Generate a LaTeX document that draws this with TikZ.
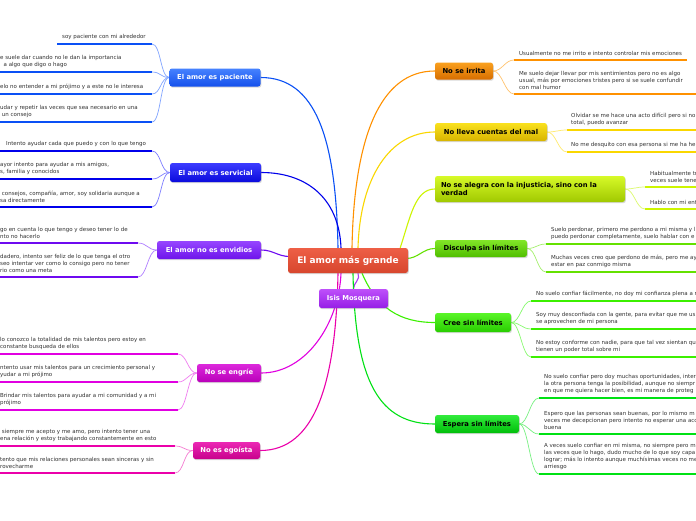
\documentclass[tikz,border=0pt]{standalone}
\usepackage{fontspec}
\setmainfont{DejaVu Sans}
\usetikzlibrary{calc,shadows,backgrounds}
\definecolor{leafgray}{RGB}{50,50,50}
\definecolor{cenT}{RGB}{238,95,70}\definecolor{cenB}{RGB}{215,70,45}
\definecolor{pacT}{RGB}{70,130,255}\definecolor{pacB}{RGB}{20,80,235}\definecolor{pacL}{RGB}{10,80,245}\definecolor{pacC}{RGB}{130,165,255}
\definecolor{serT}{RGB}{60,60,255}\definecolor{serB}{RGB}{10,10,220}\definecolor{serL}{RGB}{0,0,235}\definecolor{serC}{RGB}{125,125,255}
\definecolor{envT}{RGB}{150,70,255}\definecolor{envB}{RGB}{110,20,235}\definecolor{envL}{RGB}{110,10,240}\definecolor{envC}{RGB}{175,125,255}
\definecolor{engT}{RGB}{220,40,220}\definecolor{engB}{RGB}{185,0,185}\definecolor{engL}{RGB}{225,0,225}\definecolor{engC}{RGB}{240,125,240}
\definecolor{egoT}{RGB}{235,40,180}\definecolor{egoB}{RGB}{200,0,140}\definecolor{egoL}{RGB}{235,0,170}\definecolor{egoC}{RGB}{245,125,210}
\definecolor{isiT}{RGB}{190,80,250}\definecolor{isiB}{RGB}{150,30,230}\definecolor{isiL}{RGB}{170,60,240}
\definecolor{irrT}{RGB}{250,160,30}\definecolor{irrB}{RGB}{215,110,0}\definecolor{irrL}{RGB}{255,145,0}\definecolor{irrC}{RGB}{255,195,110}
\definecolor{lleT}{RGB}{250,225,30}\definecolor{lleB}{RGB}{215,180,0}\definecolor{lleL}{RGB}{250,215,0}\definecolor{lleC}{RGB}{255,235,110}
\definecolor{aleT}{RGB}{215,250,40}\definecolor{aleB}{RGB}{160,200,0}\definecolor{aleL}{RGB}{205,245,0}\definecolor{aleC}{RGB}{220,250,110}
\definecolor{disT}{RGB}{130,230,40}\definecolor{disB}{RGB}{80,190,0}\definecolor{disL}{RGB}{100,225,0}\definecolor{disC}{RGB}{165,240,110}
\definecolor{creT}{RGB}{90,245,40}\definecolor{creB}{RGB}{40,205,0}\definecolor{creL}{RGB}{60,240,0}\definecolor{creC}{RGB}{135,250,110}
\definecolor{espT}{RGB}{50,235,60}\definecolor{espB}{RGB}{0,190,10}\definecolor{espL}{RGB}{0,225,20}\definecolor{espC}{RGB}{120,240,130}
\tikzset{
  mainnode/.style={rounded corners=2.5pt, inner sep=0pt, align=center,
    font=\fontsize{6.8}{8}\selectfont\bfseries,
    drop shadow={opacity=0.3,shadow xshift=0.8pt,shadow yshift=-1.2pt}},
  leaf/.style={anchor=south west, inner sep=0pt, align=left,
    font=\fontsize{5.5}{6.8}\selectfont, text=leafgray},
  uline/.style={line width=1.8pt},
  con/.style={line width=0.7pt},
  maincon/.style={line width=1.1pt},
}
\begin{document}
\begin{tikzpicture}[x=1pt,y=-1pt]
\useasboundingbox (0,0) rectangle (696,520);
\clip (0,0) rectangle (696,520);

% ---------- main nodes ----------
\node[mainnode, top color=cenT, bottom color=cenB, text=white, minimum width=120pt, minimum height=25pt,
  font=\fontsize{9}{10}\selectfont\bfseries] (cen) at (348,260.5) {El amor más grande};
\node[mainnode, top color=isiT, bottom color=isiB, text=white, minimum width=69pt, minimum height=19pt] (isis) at (353.5,298.5) {Isis Mosquera};

\node[mainnode, top color=pacT, bottom color=pacB, text=white, minimum width=91pt, minimum height=18pt] (pac) at (215,77.5) {El amor es paciente};
\node[mainnode, top color=serT, bottom color=serB, text=white, minimum width=91pt, minimum height=19pt] (ser) at (215.5,172.5) {El amor es servicial};
\node[mainnode, top color=envT, bottom color=envB, text=white, minimum width=104pt, minimum height=18pt] (env) at (209,250) {El amor no es envidios};
\node[mainnode, top color=engT, bottom color=engB, text=white, minimum width=64pt, minimum height=18pt] (eng) at (229,373) {No se engríe};
\node[mainnode, top color=egoT, bottom color=egoB, text=white, minimum width=67pt, minimum height=17pt] (ego) at (226.5,450.5) {No es egoísta};

\node[mainnode, top color=irrT, bottom color=irrB, text=black, minimum width=58pt, minimum height=17pt] (irr) at (464,71) {No se irrita};
\node[mainnode, top color=lleT, bottom color=lleB, text=black, minimum width=112pt, minimum height=18pt] (lle) at (491,132) {No lleva cuentas del mal};
\node[mainnode, top color=aleT, bottom color=aleB, text=black, minimum width=190pt, minimum height=26pt, align=left, text width=178pt] (ale) at (530,189) {No se alegra con la injusticia, sino con la\\verdad};
\node[mainnode, top color=disT, bottom color=disB, text=black, minimum width=92pt, minimum height=17pt] (dis) at (481,248.5) {Disculpa sin límites};
\node[mainnode, top color=creT, bottom color=creB, text=black, minimum width=76pt, minimum height=19pt] (cre) at (473,322.5) {Cree sin límites};
\node[mainnode, top color=espT, bottom color=espB, text=black, minimum width=84pt, minimum height=18pt] (esp) at (477,424) {Espera sin límites};

% ---------- leaves: left ----------
\node[leaf] (p1) at (62,39.5) {soy paciente con mi alrededor};
\coordinate (p1a) at (57,44); \coordinate (p1b) at (152,44);
\node[leaf] (p2) at (0,67.5) {e suele dar cuando no le dan la importancia\\ \ \ a algo que digo o hago};
\coordinate (p2a) at (0,72); \coordinate (p2b) at (152,72);
\node[leaf] (p3) at (0,89.5) {elo no entender a mi prójimo y a este no le interesa};
\coordinate (p3a) at (0,94); \coordinate (p3b) at (152,94);
\node[leaf] (p4) at (0,117.5) {udar y repetir las veces que sea necesario en una\\ \ un consejo};
\coordinate (p4a) at (0,122); \coordinate (p4b) at (152,122);

\node[leaf] (s1) at (6,146.5) {Intento ayudar cada que puedo y con lo que tengo};
\coordinate (s1a) at (0,151); \coordinate (s1b) at (152,151);
\node[leaf] (s2) at (0,174.5) {ayor intento para ayudar a mis amigos,\\s, familia y conocidos};
\coordinate (s2a) at (0,179); \coordinate (s2b) at (152,179);
\node[leaf] (s3) at (0,202.5) {\ consejos, compañía, amor, soy solidaria aunque a\\sa directamente};
\coordinate (s3a) at (0,207); \coordinate (s3b) at (152,207);

\node[leaf] (e1) at (0,238.5) {go en cuenta lo que tengo y deseo tener lo de\\nto no hacerlo};
\coordinate (e1a) at (0,243); \coordinate (e1b) at (138,243);
\node[leaf] (e2) at (0,272.5) {dadero, intento ser feliz de lo que tenga el otro\\seo intentar ver como lo consigo pero no tener\\rio como una meta};
\coordinate (e2a) at (0,277); \coordinate (e2b) at (138,277);

\node[leaf] (g1) at (0,349.5) {lo conozco la totalidad de mis talentos pero estoy en\\constante busqueda de ellos};
\coordinate (g1a) at (0,354); \coordinate (g1b) at (178,354);
\node[leaf] (g2) at (0,377.5) {ntento usar mis talentos para un crecimiento personal y\\yudar a mi prójimo};
\coordinate (g2a) at (0,382); \coordinate (g2b) at (178,382);
\node[leaf] (g3) at (0,405.5) {Brindar mis talentos para ayudar a mi comunidad y a mi\\prójimo};
\coordinate (g3a) at (0,410); \coordinate (g3b) at (178,410);

\node[leaf] (o1) at (0,441.5) {\ siempre me acepto y me amo, pero intento tener una\\ena relación y estoy trabajando constantemente en esto};
\coordinate (o1a) at (0,446); \coordinate (o1b) at (175,446);
\node[leaf] (o2) at (0,468.5) {tento que mis relaciones personales sean sinceras y sin\\rovecharme};
\coordinate (o2a) at (0,473); \coordinate (o2b) at (175,473);

% ---------- leaves: right ----------
\node[leaf] (i1) at (519,55.5) {Usualmente no me irrito e intento controlar mis emociones};
\coordinate (i1a) at (514,60); \coordinate (i1b) at (687,60);
\node[leaf] (i2) at (519,89.5) {Me suelo dejar llevar por mis sentimientos pero no es algo\\usual, más por emociones tristes pero si se suele confundir\\con mal humor};
\coordinate (i2a) at (514,94); \coordinate (i2b) at (700,94);

\node[leaf] (l1) at (571,125.5) {Olvidar se me hace una acto difícil pero si no\\total, puedo avanzar};
\coordinate (l1a) at (567,130); \coordinate (l1b) at (700,130);
\node[leaf] (l2) at (571,147.5) {No me desquito con esa persona si me ha he};
\coordinate (l2a) at (567,152); \coordinate (l2b) at (700,152);

\node[leaf] (a1) at (650,182.5) {Habitualmente tr\\veces suele tene};
\coordinate (a1a) at (645,187); \coordinate (a1b) at (700,187);
\node[leaf] (a2) at (650,204.5) {Hablo con mi ent};
\coordinate (a2a) at (645,209); \coordinate (a2b) at (700,209);

\node[leaf] (d1) at (551,239.5) {Suelo perdonar, primero me perdono a mi misma y l\\puedo perdonar completamente, suelo hablar con e};
\coordinate (d1a) at (546,244); \coordinate (d1b) at (700,244);
\node[leaf] (d2) at (551,267.5) {Muchas veces creo que perdono de más, pero me ay\\estar en paz conmigo misma};
\coordinate (d2a) at (546,272); \coordinate (d2b) at (700,272);

\node[leaf] (c1) at (536,296.5) {No suelo confiar fácilmente, no doy mi confianza plena a n};
\coordinate (c1a) at (531,301); \coordinate (c1b) at (700,301);
\node[leaf] (c2) at (536,324.5) {Soy muy desconfiada con la gente, para evitar que me us\\se aprovechen de mi persona};
\coordinate (c2a) at (531,329); \coordinate (c2b) at (700,329);
\node[leaf] (c3) at (536,352.5) {No estoy conforme con nadie, para que tal vez sientan qu\\tienen un poder total sobre mi};
\coordinate (c3a) at (531,357); \coordinate (c3b) at (700,357);

\node[leaf] (w1) at (544,393.5) {No suelo confiar pero doy muchas oportunidades, inter\\la otra persona tenga la posibilidad, aunque no siempr\\en que me quiera hacer bien, es mi manera de proteg};
\coordinate (w1a) at (539,398); \coordinate (w1b) at (700,398);
\node[leaf] (w2) at (544,429.5) {Espero que las personas sean buenas, por lo mismo m\\veces me decepcionan pero intento no esperar una acc\\buena};
\coordinate (w2a) at (539,434); \coordinate (w2b) at (700,434);
\node[leaf] (w3) at (544,469.5) {A veces suelo confiar en mi misma, no siempre pero m\\las veces que lo hago, dudo mucho de lo que soy capa\\lograr; más lo intento aunque muchísimas veces no me\\arriesgo};
\coordinate (w3a) at (539,474); \coordinate (w3b) at (700,474);

% ---------- connectors ----------
\begin{scope}[on background layer]
\fill[white] (0,0) rectangle (696,520);
% underlines
\foreach \n/\c in {p1/pacL,p2/pacL,p3/pacL,p4/pacL,s1/serL,s2/serL,s3/serL,e1/envL,e2/envL,g1/engL,g2/engL,g3/engL,o1/egoL,o2/egoL,
  i1/irrL,i2/irrL,l1/lleL,l2/lleL,a1/aleL,a2/aleL,d1/disL,d2/disL,c1/creL,c2/creL,c3/creL,w1/espL,w2/espL,w3/espL}
  {\draw[uline,\c] (\n a) -- (\n b);}
% child connectors, left
\foreach \n/\p/\c in {p1/pac/pacC,p2/pac/pacC,p3/pac/pacC,p4/pac/pacC,s1/ser/serC,s2/ser/serC,s3/ser/serC,e1/env/envC,e2/env/envC,g1/eng/engC,g2/eng/engC,g3/eng/engC,o1/ego/egoC,o2/ego/egoC}
  {\draw[con,\c] (\p.west) .. controls +(-9,0) and +(9,0) .. (\n b);}
% child connectors, right
\foreach \n/\p/\c in {i1/irr/irrC,i2/irr/irrC,l1/lle/lleC,l2/lle/lleC,a1/ale/aleC,a2/ale/aleC,d1/dis/disC,d2/dis/disC,c1/cre/creC,c2/cre/creC,c3/cre/creC,w1/esp/espC,w2/esp/espC,w3/esp/espC}
  {\draw[con,\c] (\p.east) .. controls +(9,0) and +(-9,0) .. (\n a);}
% main connectors
\coordinate (cpac) at ($(cen.north)+(-10,0)$);
\coordinate (cser) at ($(cen.north)+(-7,0)$);
\coordinate (cenv) at ($(cen.west)+(2,-4)$);
\coordinate (ceng) at ($(cen.south)+(-7,0)$);
\coordinate (cego) at ($(cen.south)+(-10,0)$);
\coordinate (cirr) at ($(cen.north)+(4,0)$);
\coordinate (clle) at ($(cen.north)+(10,0)$);
\coordinate (cale) at ($(cen.north east)+(-8,0)$);
\coordinate (cdis) at ($(cen.east)+(-2,-2)$);
\coordinate (ccre) at ($(cen.south)+(14,0)$);
\coordinate (cesp) at ($(cen.south)+(5,0)$);
\coordinate (cisi) at ($(cen.south)+(10,0)$);
\draw[maincon,pacL] (cpac) .. controls +(-2,-110) and +(55,0) .. (pac.east);
\draw[maincon,serL] (cser) .. controls +(-2,-50) and +(45,0) .. (ser.east);
\draw[maincon,envL] (cenv) .. controls +(-12,0) and +(12,0) .. (env.east);
\draw[maincon,engL] (ceng) .. controls +(-2,50) and +(45,0) .. (eng.east);
\draw[maincon,egoL] (cego) .. controls +(-2,110) and +(55,0) .. (ego.east);
\draw[maincon,isiL] (cisi) .. controls +(3,6) and +(0,-6) .. (isis.north);
\draw[maincon,irrL] (cirr) .. controls +(2,-110) and +(-55,0) .. (irr.west);
\draw[maincon,lleL] (clle) .. controls +(2,-70) and +(-45,0) .. (lle.west);
\draw[maincon,aleL] (cale) .. controls +(10,-30) and +(-20,0) .. (ale.west);
\draw[maincon,disL] (cdis) .. controls +(12,0) and +(-12,0) .. (dis.west);
\draw[maincon,creL] (ccre) .. controls +(15,35) and +(-35,0) .. (cre.west);
\draw[maincon,espL] (cesp) .. controls +(2,110) and +(-55,0) .. (esp.west);
\end{scope}
\end{tikzpicture}
\end{document}
